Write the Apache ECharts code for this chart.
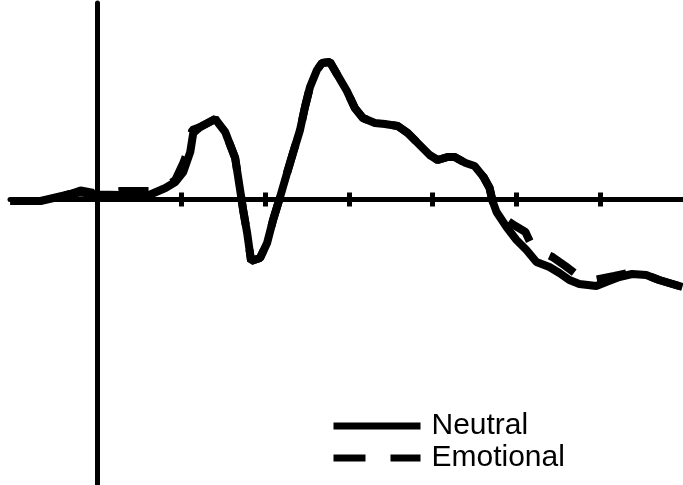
<!DOCTYPE html>
<html>
<head>
<meta charset="utf-8">
<script src="https://cdn.jsdelivr.net/npm/echarts@6/dist/echarts.min.js"></script>
<style>
html,body{margin:0;padding:0;background:#fff;}
#chart{width:683px;height:485px;}
</style>
</head>
<body>
<div id="chart"></div>
<script>
// time (ms) and amplitude readings
var neutralTime = [-104, -67.9, -50, -32.1, -20.2, 0, 27.4, 63.1, 81, 92.9, 102.4, 110.7, 114.3, 122.6, 140.5, 152.4, 164.3, 170.2, 173.8, 178.6, 183.3, 194, 202.4, 209.5, 217.9, 226.2, 233.3, 241.7, 247.6, 253.6, 261.9, 267.9, 277.4, 285.7, 297.6, 307.1, 316.7, 331, 342.9, 358.3, 370.2, 384.5, 396.4, 406, 417.9, 426.2, 439.3, 450, 460.7, 467.9, 471.4, 476.2, 488.1, 500, 511.9, 523.8, 539.3, 551.2, 563.1, 575, 595.2, 607.1, 622.6, 638.1, 654.8, 670.2, 682.1, 698];
var neutralValue = [-0.15, -0.15, 0.2, 0.55, 0.7, 0.5, 0.45, 0.5, 1.15, 1.75, 2.75, 4.75, 6.65, 7.25, 8.05, 6.75, 4.15, 0.95, -1.05, -3.35, -6.15, -5.85, -4.35, -2.05, 0.25, 2.65, 4.65, 6.95, 9.25, 11.25, 12.95, 13.65, 13.75, 12.55, 10.85, 9.15, 8.15, 7.65, 7.55, 7.35, 6.65, 5.45, 4.45, 3.95, 4.25, 4.25, 3.65, 3.35, 2.25, 1.15, -0.15, -1.25, -2.75, -4.05, -5.05, -6.25, -6.75, -7.35, -8.05, -8.45, -8.65, -8.25, -7.75, -7.45, -7.55, -8.05, -8.35, -8.75];

var emotionalTime = [-104, -67.9, -50, -32.1, -20.2, 0, 27.4, 63.1, 81, 92.9, 102.4, 108.3, 113.1, 122.6, 140.5, 152.4, 164.3, 170.2, 173.8, 178.6, 183.3, 194, 202.4, 209.5, 217.9, 226.2, 233.3, 241.7, 247.6, 253.6, 261.9, 267.9, 277.4, 285.7, 297.6, 307.1, 316.7, 331, 342.9, 358.3, 370.2, 384.5, 396.4, 406, 417.9, 426.2, 439.3, 450, 460.7, 467.9, 471.4, 476.2, 488.1, 498.8, 510.7, 516.7, 527.4, 542.9, 558.3, 572.6, 586.9, 598.8, 616.7, 633.3, 654.8, 670.2, 682.1, 698];
var emotionalValue = [-0.15, -0.15, 0.2, 0.55, 0.9, 0.6, 0.85, 0.85, 1.25, 1.95, 3.65, 4.95, 6.95, 7.25, 8.05, 6.75, 4.15, 0.95, -1.05, -3.35, -6.15, -5.85, -4.35, -2.05, 0.25, 2.65, 4.65, 6.95, 9.25, 11.25, 12.95, 13.65, 13.75, 12.55, 10.85, 9.15, 8.15, 7.65, 7.55, 7.35, 6.65, 5.45, 4.45, 3.95, 4.25, 4.25, 3.65, 3.35, 2.25, 1.15, -0.15, -1.25, -2.05, -2.65, -3.25, -4.35, -5.15, -5.75, -6.65, -7.55, -8.15, -7.95, -7.65, -7.35, -7.55, -8.05, -8.35, -8.75];

var tickValues = [100, 200, 300, 400, 500, 600];
var seriesNames = ['Neutral', 'Emotional'];

function pairs(t, v) {
  var out = [];
  for (var i = 0; i < t.length; i++) out.push([t[i], v[i]]);
  return out;
}

var chart = echarts.init(document.getElementById('chart'), null, {renderer: 'canvas'});
var xMin = -104.4, xMax = 698.7;
var axisCommon = {
  type: 'value', min: xMin, max: xMax, position: 'bottom',
  splitLine: {show: false}, axisLabel: {show: false}
};
chart.setOption({
  animation: false,
  backgroundColor: '#ffffff',
  color: ['#000000', '#000000'],
  grid: {left: 10, right: 0, top: 3, bottom: 1},
  xAxis: [
    Object.assign({}, axisCommon, {
      axisLine: {show: true, onZero: true, onZeroAxisIndex: 0, lineStyle: {color: '#000', width: 5}},
      axisTick: {show: true, inside: false, length: 7, customValues: tickValues, lineStyle: {color: '#000', width: 5}}
    }),
    Object.assign({}, axisCommon, {
      axisLine: {show: false, onZero: true, onZeroAxisIndex: 0, lineStyle: {color: '#000', width: 5}},
      axisTick: {show: true, inside: true, length: 7, customValues: tickValues, lineStyle: {color: '#000', width: 5}}
    })
  ],
  yAxis: {
    type: 'value', min: -28.45, max: 19.65,
    axisLine: {show: true, onZero: true, onZeroAxisIndex: 0, lineStyle: {color: '#000', width: 5}},
    axisTick: {show: false}, axisLabel: {show: false}, splitLine: {show: false}
  },
  legend: {
    orient: 'vertical', left: 330, top: 411, padding: 0, itemGap: 2,
    itemWidth: 87, itemHeight: 14,
    textStyle: {fontFamily: 'Liberation Sans, Arial, sans-serif', fontSize: 30, color: '#000', padding: [0, 0, 0, 6]},
    data: [
      {name: seriesNames[0], itemStyle: {opacity: 0}, lineStyle: {width: 7, color: '#000', type: 'solid'}},
      {name: seriesNames[1], itemStyle: {opacity: 0}, lineStyle: {width: 7, color: '#000', type: [32, 25]}}
    ]
  },
  series: [
    {
      name: seriesNames[1], type: 'line', xAxisIndex: 0, data: pairs(emotionalTime, emotionalValue),
      symbol: 'none', smooth: false, z: 2,
      itemStyle: {color: '#000'},
      lineStyle: {color: '#000', width: 8, type: [30, 25]}
    },
    {
      name: seriesNames[0], type: 'line', xAxisIndex: 0, data: pairs(neutralTime, neutralValue),
      symbol: 'none', smooth: false, z: 3,
      itemStyle: {color: '#000'},
      lineStyle: {color: '#000', width: 8, type: 'solid'}
    }
  ]
});
</script>
</body>
</html>
